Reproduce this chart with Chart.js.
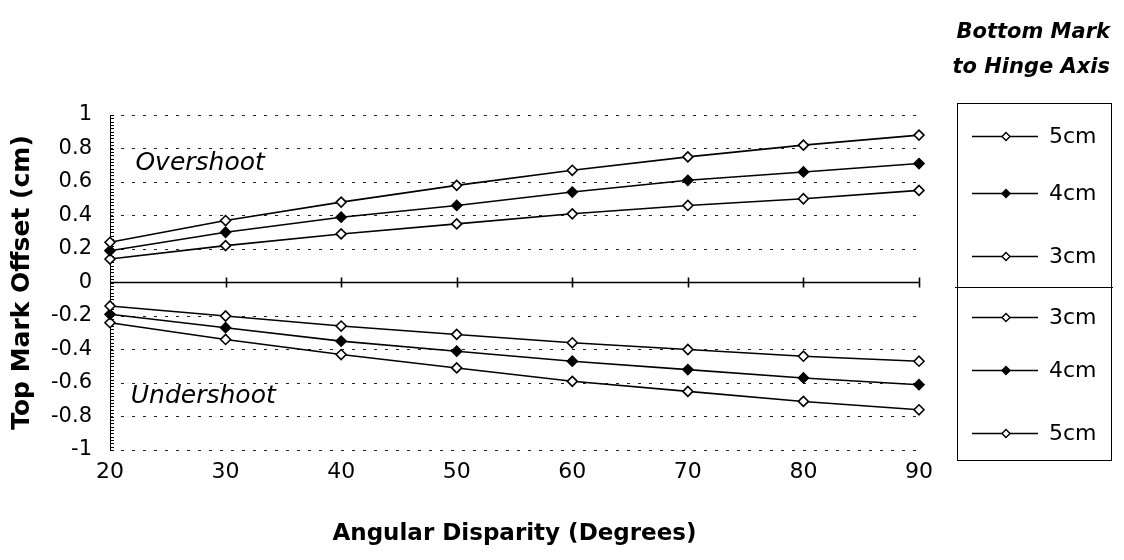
<!DOCTYPE html>
<html>
<head>
<meta charset="utf-8">
<script src="https://cdn.jsdelivr.net/npm/chart.js@4.4.1/dist/chart.umd.min.js"></script>
<style>
  html, body { margin: 0; padding: 0; background: #fff; }
  #wrap { width: 1124px; height: 560px; }
</style>
</head>
<body>
<div id="wrap"><canvas id="chart" width="1124" height="560"></canvas></div>
<script>
// Angular disparity (degrees) on the x axis
const angles = [20, 30, 40, 50, 60, 70, 80, 90];
const xTickLabels = ['20', '30', '40', '50', '60', '70', '80', '90'];

// Top mark offset (cm)
const over5 = [0.24, 0.37, 0.48, 0.58, 0.67, 0.75, 0.82, 0.88];
const over4 = [0.19, 0.30, 0.39, 0.46, 0.54, 0.61, 0.66, 0.71];
const over3 = [0.14, 0.22, 0.29, 0.35, 0.41, 0.46, 0.50, 0.55];
const under3 = [-0.14, -0.20, -0.26, -0.31, -0.36, -0.40, -0.44, -0.47];
const under4 = [-0.19, -0.27, -0.35, -0.41, -0.47, -0.52, -0.57, -0.61];
const under5 = [-0.24, -0.34, -0.43, -0.51, -0.59, -0.65, -0.71, -0.76];

const seriesLabels = ['5cm', '4cm', '3cm', '3cm', '4cm', '5cm'];
const seriesFilled = [false, true, false, false, true, false];

const yTickValues = [-1, -0.8, -0.6, -0.4, -0.2, 0, 0.2, 0.4, 0.6, 0.8, 1];
const yTickLabels = ['-1', '-0.8', '-0.6', '-0.4', '-0.2', '0', '0.2', '0.4', '0.6', '0.8', '1'];

const legendTitle = ['Bottom Mark', 'to Hinge Axis'];
const regionNotes = [
    { text: 'Overshoot', x: 22.2, y: 0.71 },
    { text: 'Undershoot', x: 21.8, y: -0.68 }
];

const FONT = '"DejaVu Sans", "Liberation Sans", sans-serif';

function makeSeries(values, i) {
    return {
        label: seriesLabels[i],
        data: values.map((v, k) => ({ x: angles[k], y: v })),
        borderColor: '#000',
        borderWidth: 1.6,
        pointStyle: 'rectRot',
        pointRadius: 5,
        pointBorderWidth: 1.6,
        pointBorderColor: '#000',
        pointBackgroundColor: seriesFilled[i] ? '#000' : '#fff',
        tension: 0,
        clip: false
    };
}

// axis line with small inward ticks, solid zero line, note labels
const framePlugin = {
    id: 'frame',
    beforeDatasetsDraw(chart) {
        const { ctx, chartArea } = chart;
        const xs = chart.scales.x;
        const ys = chart.scales.y;
        ctx.save();
        ctx.strokeStyle = '#000';
        ctx.lineWidth = 1;
        ctx.beginPath();
        ctx.moveTo(chartArea.left + 0.5, ys.getPixelForValue(1));
        ctx.lineTo(chartArea.left + 0.5, ys.getPixelForValue(-1));
        for (let i = -50; i <= 50; i++) {
            const py = Math.round(ys.getPixelForValue(i / 50)) + 0.5;
            ctx.moveTo(chartArea.left, py);
            ctx.lineTo(chartArea.left + 4, py);
        }
        ctx.stroke();

        const y0 = ys.getPixelForValue(0);
        ctx.lineWidth = 1.6;
        ctx.beginPath();
        ctx.moveTo(chartArea.left, y0);
        ctx.lineTo(xs.getPixelForValue(90), y0);
        angles.slice(1).forEach(a => {
            const px = Math.round(xs.getPixelForValue(a)) + 0.5;
            ctx.moveTo(px, y0 - 5);
            ctx.lineTo(px, y0 + 5);
        });
        ctx.stroke();

        ctx.fillStyle = '#000';
        ctx.font = 'oblique 25px ' + FONT;
        ctx.textBaseline = 'middle';
        ctx.textAlign = 'left';
        regionNotes.forEach(n => {
            ctx.fillText(n.text, xs.getPixelForValue(n.x), ys.getPixelForValue(n.y));
        });
        ctx.restore();
    }
};

// boxed legend split into the overshoot and undershoot groups
const legendPlugin = {
    id: 'boxLegend',
    afterDraw(chart) {
        const ctx = chart.ctx;
        const box = { left: 957, right: 1111, top: 103, bottom: 460, split: 287 };
        const rowY = [136, 193, 256, 317, 370, 433];
        ctx.save();
        ctx.fillStyle = '#000';
        ctx.font = 'bold oblique 21px ' + FONT;
        ctx.textAlign = 'right';
        ctx.textBaseline = 'middle';
        ctx.fillText(legendTitle[0], 1110, 33);
        ctx.fillText(legendTitle[1], 1110, 68);

        ctx.strokeStyle = '#000';
        ctx.lineWidth = 1;
        ctx.strokeRect(box.left + 0.5, box.top + 0.5, box.right - box.left, box.bottom - box.top);
        ctx.beginPath();
        ctx.moveTo(box.left - 2, box.split + 0.5);
        ctx.lineTo(box.right + 2, box.split + 0.5);
        ctx.stroke();

        ctx.font = '22px ' + FONT;
        ctx.textAlign = 'left';
        chart.data.datasets.forEach((ds, i) => {
            const y = rowY[i] + 0.5;
            ctx.lineWidth = 1.5;
            ctx.beginPath();
            ctx.moveTo(972, y);
            ctx.lineTo(1038, y);
            ctx.stroke();
            ctx.lineWidth = 1.4;
            ctx.beginPath();
            ctx.moveTo(1006, y - 4);
            ctx.lineTo(1010, y);
            ctx.lineTo(1006, y + 4);
            ctx.lineTo(1002, y);
            ctx.closePath();
            ctx.fillStyle = ds.pointBackgroundColor;
            ctx.fill();
            ctx.stroke();
            ctx.fillStyle = '#000';
            ctx.fillText(ds.label, 1049, y + 1);
        });
        ctx.restore();
    }
};

new Chart(document.getElementById('chart').getContext('2d'), {
    type: 'line',
    data: {
        datasets: [over5, over4, over3, under3, under4, under5].map(makeSeries)
    },
    options: {
        responsive: false,
        animation: false,
        layout: { padding: { left: 0, top: 115, right: 205, bottom: 0 } },
        plugins: {
            legend: { display: false },
            tooltip: { enabled: false }
        },
        scales: {
            x: {
                type: 'linear',
                min: 20,
                max: 90,
                afterBuildTicks: s => { s.ticks = angles.map(v => ({ value: v })); },
                grid: { display: false },
                border: { display: false },
                ticks: {
                    color: '#000',
                    font: { family: FONT, size: 22 },
                    padding: 1,
                    maxRotation: 0,
                    callback: v => xTickLabels[angles.indexOf(v)]
                },
                title: {
                    display: true,
                    text: 'Angular Disparity (Degrees)',
                    color: '#000',
                    font: { family: FONT, size: 23, weight: 'bold' },
                    padding: { top: 0, bottom: 12 }
                },
                afterFit: s => { s.height = 110; }
            },
            y: {
                min: -1,
                max: 1,
                afterBuildTicks: s => { s.ticks = yTickValues.map(v => ({ value: v })); },
                grid: {
                    drawTicks: false,
                    color: c => (c.tick && c.tick.value === 0) ? 'rgba(0,0,0,0)' : '#222',
                    lineWidth: 1
                },
                border: { display: false, dash: [3, 8] },
                ticks: {
                    color: '#000',
                    font: { family: FONT, size: 21 },
                    padding: 18,
                    callback: v => yTickLabels[yTickValues.indexOf(v)]
                },
                title: {
                    display: true,
                    text: 'Top Mark Offset (cm)',
                    color: '#000',
                    font: { family: FONT, size: 25, weight: 'bold' },
                    padding: { top: 7, bottom: 0 }
                },
                afterFit: s => { s.width = 110; }
            }
        }
    },
    plugins: [framePlugin, legendPlugin]
});
</script>
</body>
</html>
